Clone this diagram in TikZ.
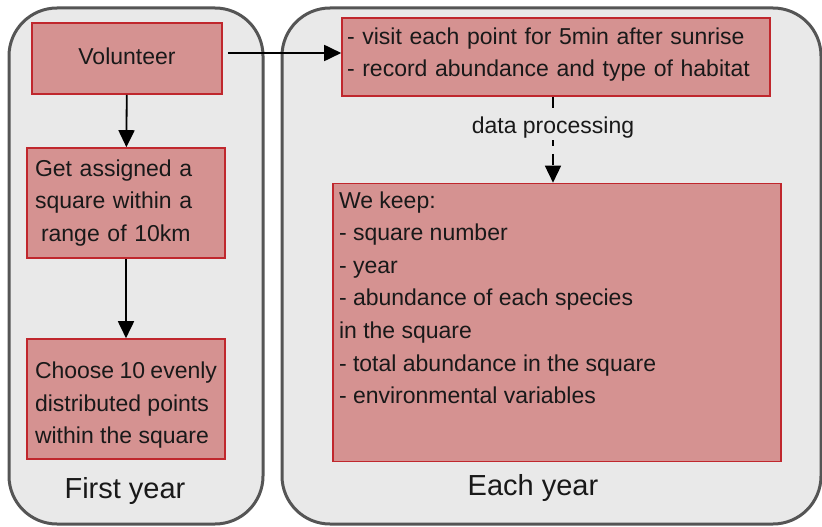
\documentclass[tikz,border=0pt]{standalone}
\usepackage{fontspec}
\setmainfont{Liberation Sans}
\usetikzlibrary{arrows.meta}
\definecolor{boxfill}{HTML}{D59291}
\definecolor{boxline}{HTML}{C0272D}
\definecolor{panelfill}{HTML}{E9E9E9}
\definecolor{panelline}{HTML}{555555}
\tikzset {
  >={Triangle[width=16pt,length=17pt]},
  every node/.style={font=\fontsize{23}{32.6}\selectfont,text=black!90},
}

\begin{document}
\begin{tikzpicture}[x=1pt,y=-1pt,
    panel/.style={draw=panelline,fill=panelfill,line width=3pt,rounded corners=48pt},
    stepbox/.style={draw=boxline,fill=boxfill,line width=1.6pt,inner sep=0pt},
    flow/.style={->,line width=1.8pt},
    yearlabel/.style={font=\fontsize{29}{34}\selectfont}]
  \useasboundingbox (0,0) rectangle (822,527);
  % the two panels
  \draw[panel] (9,8) rectangle (263,524);
  \draw[panel] (282,8) rectangle (821,524);
  \node[yearlabel] (first) at (125,491) {First year};
  \node[yearlabel] (each) at (533,488) {Each year};
  % first year
  \node[stepbox,minimum width=190pt,minimum height=71pt] (vol) at (127,58.5) {\raisebox{4pt}{Volunteer}};
  \node[stepbox,minimum width=198pt,minimum height=110pt,text width=182pt,align=left]
    (assign) at (126,203) {Get assigned a\\square within a\\\hspace*{6pt}range of 10km};
  \node[stepbox,minimum width=198pt,minimum height=120pt] (choose) at (126,399)
    {\parbox[c][120pt][t]{182pt}{\vspace*{23pt}Choose~10~evenly\\distributed points\\within the square}};
  % each year
  \node[stepbox,minimum width=428pt,minimum height=78pt,text width=418pt,align=left]
    (visit) at (556,57) {- visit each point for 5min after sunrise\\- record abundance and type of habitat\vspace*{5pt}};
  \node[stepbox,minimum width=448pt,minimum height=278pt] (keep) at (557,322.5)
    {\parbox[c][262pt][t]{436pt}{We keep:\\- square number\\- year\\- abundance of each species\\in the square\\- total abundance in the square\\- environmental variables}};
  \draw[flow] (vol) -- (assign);
  \draw[flow] (assign) -- (choose);
  \draw[flow] ([xshift=5pt,yshift=5.5pt]vol.east) -- ([yshift=5.5pt]vol.east -| visit.west);
  \draw[flow,line width=1.5pt,dash pattern=on 11pt off 8pt] ([xshift=-3pt]visit.south) -- ([xshift=-3pt]visit.south |- keep.north)
    node[pos=0.36,fill=panelfill,inner sep=2pt] (proc) {data processing};
\end{tikzpicture}
\end{document}
